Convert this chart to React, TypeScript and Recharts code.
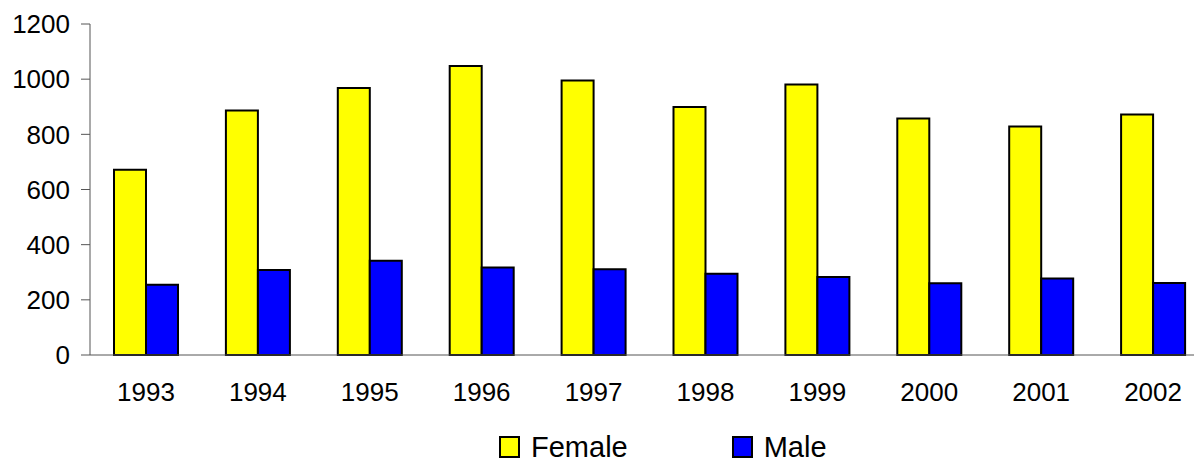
import { Bar, BarChart, Legend, XAxis, YAxis } from "recharts";

const YEARS = ["1993", "1994", "1995", "1996", "1997", "1998", "1999", "2000", "2001", "2002"];
const FEMALE = [672, 886, 968, 1048, 995, 899, 981, 857, 828, 872];
const MALE = [255, 308, 342, 317, 311, 295, 283, 260, 277, 261];
const Y_TICKS = [0, 200, 400, 600, 800, 1000, 1200];

const data = YEARS.map((year, i) => ({ year, female: FEMALE[i], male: MALE[i] }));

const FONT = "Arial, 'Liberation Sans', sans-serif";

function LegendBox({ payload }: any) {
  return (
    <div style={{ display: "flex", fontFamily: FONT, fontSize: 29, lineHeight: "28px", color: "#000" }}>
      {(payload || []).map((p: any, i: number) => (
        <div key={p.value} style={{ display: "flex", alignItems: "center", marginLeft: i ? 104 : 0 }}>
          <span
            style={{
              width: 17,
              height: 18,
              background: p.color,
              border: "2px solid #000",
              marginRight: 11,
              display: "inline-block",
            }}
          />
          <span>{p.value}</span>
        </div>
      ))}
    </div>
  );
}

export default function App() {
  return (
    <div style={{ position: "absolute", left: 0, top: 0, width: 1194, height: 462, overflow: "hidden", background: "#fff" }}>
      <BarChart width={1209} height={462} data={data} margin={{ top: 24, right: 0, left: 0, bottom: 49 }} barGap={0}>
        <XAxis
          dataKey="year"
          height={30}
          tickLine={false}
          tickSize={0}
          tickMargin={28}
          axisLine={{ stroke: "#555" }}
          tick={{ fontSize: 26, fill: "#000", fontFamily: FONT }}
        />
        <YAxis
          domain={[0, 1200]}
          ticks={Y_TICKS}
          width={90}
          tickSize={9}
          tickMargin={11}
          axisLine={{ stroke: "#555" }}
          tickLine={{ stroke: "#555" }}
          tick={{ fontSize: 26, fill: "#000", fontFamily: FONT }}
          interval={0}
        />
        <Legend
          content={<LegendBox />}
          wrapperStyle={{ left: 499, top: 433, width: "auto", height: 28 }}
        />
        <Bar dataKey="female" name="Female" fill="#ffff00" stroke="#000" strokeWidth={2} barSize={32} isAnimationActive={false} />
        <Bar dataKey="male" name="Male" fill="#0000ff" stroke="#000" strokeWidth={2} barSize={32} isAnimationActive={false} />
      </BarChart>
    </div>
  );
}
